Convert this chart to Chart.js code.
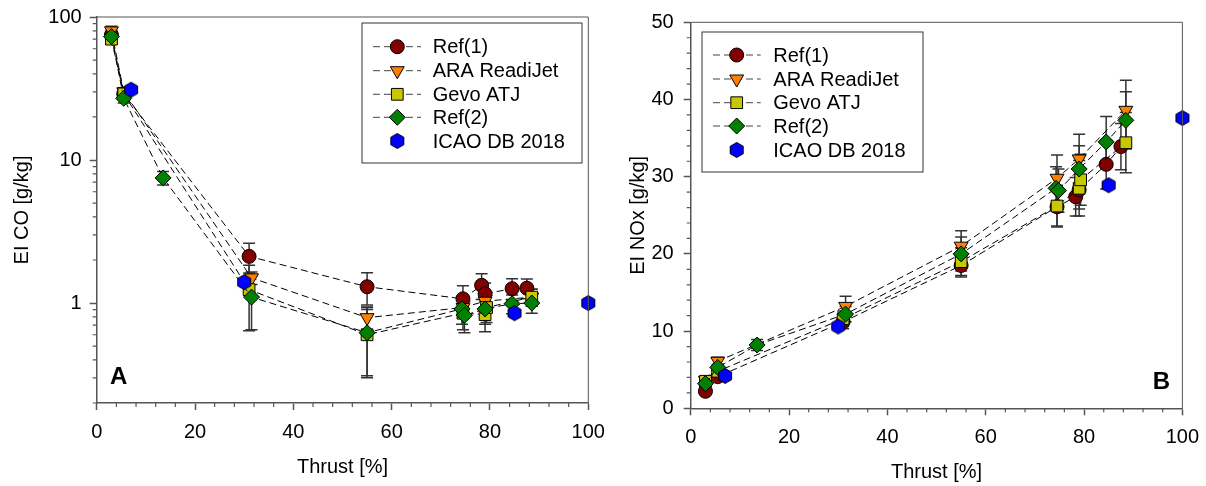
<!DOCTYPE html>
<html>
<head>
<meta charset="utf-8">
<script src="https://cdn.jsdelivr.net/npm/chart.js@4.4.0/dist/chart.umd.min.js"></script>
<style>
  html, body { margin: 0; padding: 0; background: #fff; }
  #wrap { position: relative; width: 1206px; height: 486px; }
  .panel { position: absolute; top: 0; height: 486px; }
</style>
</head>
<body>
<div id="wrap">
  <div class="panel" style="left:0;width:620px"><canvas id="chartA" width="620" height="486"></canvas></div>
  <div class="panel" style="left:603px;width:603px"><canvas id="chartB" width="603" height="486"></canvas></div>
</div>
<script>
// ---- Data ----
// Ref(1)
const thrustRef1 = [3, 5.5, 31, 55, 74.5, 78.3, 79, 84.5, 87.5];
const coRef1     = [75, 29, 2.12, 1.3, 1.07, 1.33, 1.16, 1.26, 1.27];
const coErrRef1  = [5, 2, 0.5, 0.33, 0.25, 0.27, 0.22, 0.22, 0.2];
const noxRef1    = [2.2, 4.1, 11.2, 18.5, 26.1, 27.4, 28.3, 31.6, 33.9];
const noxErrRef1 = [0.3, 0.4, 0.9, 1.5, 2.5, 2.5, 2.5, 3.2, 3.0];

// ARA ReadiJet
const thrustAra = [3, 5.5, 31.5, 55, 74.5, 79, 88.5];
const coAra     = [80, 30, 1.5, 0.79, 0.93, 1.03, 1.1];
const coErrAra  = [6, 2, 0.15, 0.15, 0.15, 0.15, 0.15];
const noxAra    = [3.6, 6.1, 13.2, 21, 29.8, 32.3, 38.6];
const noxErrAra = [0.4, 0.5, 1.3, 2.0, 3.0, 3.2, 3.9];

// Gevo ATJ
const thrustGevo = [3, 5.5, 31, 55, 74.5, 79, 79.3, 88.5];
const coGevo     = [70, 29, 1.24, 0.6, 0.85, 0.83, 0.93, 1.1];
const coErrGevo  = [5, 2, 0.6, 0.3, 0.2, 0.2, 0.2, 0.15];
const noxGevo    = [3.5, 4.8, 11.6, 19, 26.2, 28.5, 29.6, 34.4];
const noxErrGevo = [0.3, 0.4, 1.0, 1.8, 2.7, 3.6, 3.3, 3.9];

// Ref(2)
const thrustRef2 = [3, 5.5, 13.5, 31.5, 55, 74.3, 74.8, 79, 84.5, 88.5];
const coRef2     = [73, 27, 7.5, 1.1, 0.62, 0.91, 0.82, 0.91, 0.99, 1.0];
const coErrRef2  = [4, 2, 0.8, 0.45, 0.31, 0.2, 0.2, 0.2, 0.15, 0.15];
const noxRef2    = [3.2, 5.3, 8.2, 12.2, 20, 28.5, 28.2, 31.0, 34.5, 37.3];
const noxErrRef2 = [0.3, 0.4, 0.7, 1.0, 2.2, 2.8, 2.8, 3.0, 3.3, 3.7];

// ICAO DB 2018
const thrustIcao = [7, 30, 85, 100];
const coIcao     = [31, 1.4, 0.85, 1.0];
const noxIcao    = [4.2, 10.6, 28.9, 37.6];

// axis ticks
const thrustTicks = [0, 20, 40, 60, 80, 100];
const coTicks = [1, 10, 100];
const noxTicks = [0, 10, 20, 30, 40, 50];

const FONT = 'Arial, "Liberation Sans", sans-serif';
const AXIS = '#555';

// hexagon marker for ICAO
function hexagon(r, fill) {
  const c = document.createElement('canvas');
  const s = Math.ceil(r * 2 + 3);
  c.width = s; c.height = s;
  const g = c.getContext('2d');
  g.beginPath();
  for (let k = 0; k < 6; k++) {
    const a = -Math.PI / 2 + k * Math.PI / 3;
    const px = s / 2 + r * Math.cos(a), py = s / 2 + r * Math.sin(a);
    if (k === 0) g.moveTo(px, py); else g.lineTo(px, py);
  }
  g.closePath();
  g.fillStyle = fill; g.fill();
  g.strokeStyle = '#000'; g.lineWidth = 1; g.stroke();
  return c;
}
const hexImg = hexagon(7.5, '#0000ff');

const seriesList = [
  { label: 'Ref(1)', style: 'circle', radius: 7, color: '#800000', thrust: thrustRef1, co: coRef1, coErr: coErrRef1, nox: noxRef1, noxErr: noxErrRef1, order: 4 },
  { label: 'ARA ReadiJet', style: 'triangle', radius: 8, rotation: 180, color: '#ff8000', thrust: thrustAra, co: coAra, coErr: coErrAra, nox: noxAra, noxErr: noxErrAra, order: 3 },
  { label: 'Gevo ATJ', style: 'rect', radius: 8.3, color: '#c8c800', thrust: thrustGevo, co: coGevo, coErr: coErrGevo, nox: noxGevo, noxErr: noxErrGevo, order: 2 },
  { label: 'Ref(2)', style: 'rectRot', radius: 8, color: '#008000', thrust: thrustRef2, co: coRef2, coErr: coErrRef2, nox: noxRef2, noxErr: noxErrRef2, order: 1 },
  { label: 'ICAO DB 2018', style: hexImg, radius: 8, color: '#0000ff', thrust: thrustIcao, co: coIcao, nox: noxIcao, noLine: true, order: 0 }
];

function buildDatasets(key) {
  return seriesList.map(s => ({
    label: s.label,
    data: s.thrust.map((t, i) => ({ x: t, y: s[key][i] })),
    errors: s[key + 'Err'] || null,
    showLine: !s.noLine,
    borderColor: '#000',
    borderWidth: 1,
    borderDash: [7, 4],
    pointStyle: s.style,
    pointRotation: s.rotation || 0,
    pointRadius: s.radius,
    pointBackgroundColor: s.color,
    pointBorderColor: '#000',
    pointBorderWidth: 1,
    tension: 0,
    fill: false,
    clip: false,
    order: s.order
  }));
}

// error bars, behind the markers
const errorBars = {
  id: 'errorBars',
  beforeDatasetsDraw(chart) {
    const { ctx, scales: { x, y } } = chart;
    ctx.save();
    ctx.strokeStyle = '#333';
    ctx.lineWidth = 1.5;
    chart.data.datasets.forEach(ds => {
      if (!ds.errors) return;
      ds.data.forEach((p, i) => {
        const e = ds.errors[i];
        const px = x.getPixelForValue(p.x);
        const top = y.getPixelForValue(p.y + e);
        const bot = y.getPixelForValue(Math.max(p.y - e, y.min));
        ctx.beginPath();
        ctx.moveTo(px, top); ctx.lineTo(px, bot);
        ctx.moveTo(px - 6, top); ctx.lineTo(px + 6, top);
        ctx.moveTo(px - 6, bot); ctx.lineTo(px + 6, bot);
        ctx.stroke();
      });
    });
    ctx.restore();
  }
};

function legendMarker(ctx, s, cx, cy) {
  ctx.save();
  ctx.fillStyle = s.color;
  ctx.strokeStyle = '#000';
  ctx.lineWidth = 1;
  ctx.setLineDash([]);
  ctx.beginPath();
  if (s.style === 'circle') {
    ctx.arc(cx, cy, s.radius, 0, Math.PI * 2);
  } else if (s.style === 'triangle') {
    const r = s.radius;
    ctx.moveTo(cx, cy + r);
    ctx.lineTo(cx - r * 0.866, cy - r / 2);
    ctx.lineTo(cx + r * 0.866, cy - r / 2);
    ctx.closePath();
  } else if (s.style === 'rect') {
    const h = s.radius * Math.SQRT1_2;
    ctx.rect(cx - h, cy - h, 2 * h, 2 * h);
  } else if (s.style === 'rectRot') {
    const r = s.radius;
    ctx.moveTo(cx, cy - r); ctx.lineTo(cx + r, cy); ctx.lineTo(cx, cy + r); ctx.lineTo(cx - r, cy);
    ctx.closePath();
  } else {
    ctx.drawImage(s.style, cx - s.style.width / 2, cy - s.style.height / 2);
    ctx.restore();
    return;
  }
  ctx.fill();
  ctx.stroke();
  ctx.restore();
}

// frame, minor ticks, legend and panel letter
const panelExtras = {
  id: 'panelExtras',
  afterDraw(chart, args, opts) {
    const { ctx, chartArea: a, scales: { x, y } } = chart;
    ctx.save();
    ctx.strokeStyle = AXIS;
    ctx.lineWidth = 1;
    ctx.beginPath();
    ctx.moveTo(a.left, a.top); ctx.lineTo(a.right, a.top); ctx.lineTo(a.right, a.bottom);
    ctx.stroke();

    // minor ticks
    ctx.lineWidth = 1.2;
    ctx.beginPath();
    for (let v = 0; v <= 100; v += 4) {
      if (v % 20 === 0) continue;
      const px = x.getPixelForValue(v);
      ctx.moveTo(px, a.bottom); ctx.lineTo(px, a.bottom + 4);
    }
    let minor = [];
    if (opts.logY) {
      [0.1, 1, 10].forEach(d => { for (let k = 2; k <= 9; k++) minor.push(k * d); });
      minor = minor.filter(v => v >= y.min && v <= y.max);
    } else {
      for (let v = 0; v <= 50; v += 2) if (v % 10 !== 0) minor.push(v);
    }
    minor.forEach(v => {
      const py = y.getPixelForValue(v);
      ctx.moveTo(a.left, py); ctx.lineTo(a.left - 4, py);
    });
    ctx.stroke();

    // legend
    const L = opts.legend;
    ctx.strokeStyle = '#333';
    ctx.lineWidth = 1;
    ctx.strokeRect(L.x, L.y, L.w, L.h);
    ctx.font = '20px ' + FONT;
    ctx.fillStyle = '#000';
    ctx.textBaseline = 'middle';
    ctx.textAlign = 'left';
    seriesList.forEach((s, i) => {
      const ry = L.rowY[i];
      if (!s.noLine) {
        ctx.save();
        ctx.strokeStyle = '#444';
        ctx.setLineDash([7, 4]);
        ctx.beginPath();
        ctx.moveTo(L.lineX0, ry); ctx.lineTo(L.lineX1, ry);
        ctx.stroke();
        ctx.restore();
      }
      legendMarker(ctx, s, L.markX, ry);
      ctx.fillText(s.label, L.textX, ry + 1);
    });

    // panel letter
    ctx.font = 'bold 24px ' + FONT;
    ctx.textAlign = opts.letterAlign;
    ctx.fillText(opts.letter, opts.letterX, opts.letterY);
    ctx.restore();
  }
};

function axisCommon() {
  return {
    ticks: { color: '#000', font: { family: FONT, size: 20 }, autoSkip: false, maxRotation: 0 },
    grid: { drawOnChartArea: false, drawTicks: true, tickLength: 7, tickColor: AXIS, tickWidth: 1.5 },
    border: { display: true, color: AXIS, width: 1.5 }
  };
}

function makeChart(id, cfg) {
  const xAxis = axisCommon();
  xAxis.type = 'linear';
  xAxis.min = 0; xAxis.max = 100;
  xAxis.ticks.padding = 10;
  xAxis.afterBuildTicks = s => { s.ticks = thrustTicks.map(v => ({ value: v })); };
  xAxis.title = { display: true, text: 'Thrust [%]', color: '#000', font: { family: FONT, size: 20 }, padding: 0 };
  xAxis.afterFit = s => { s.height = cfg.xHeight; s.paddingLeft = 0; s.paddingRight = 0; };

  const yAxis = axisCommon();
  yAxis.type = cfg.logY ? 'logarithmic' : 'linear';
  yAxis.min = cfg.yMin; yAxis.max = cfg.yMax;
  yAxis.ticks.padding = cfg.yPad;
  yAxis.ticks.callback = v => String(v);
  yAxis.afterBuildTicks = s => { s.ticks = cfg.yTicks.map(v => ({ value: v })); };
  yAxis.title = { display: true, text: cfg.yTitle, color: '#000', font: { family: FONT, size: 20 }, padding: 0 };
  yAxis.afterFit = s => { s.width = cfg.yWidth; s.paddingTop = 0; s.paddingBottom = 0; };

  return new Chart(document.getElementById(id), {
    type: 'scatter',
    data: { datasets: buildDatasets(cfg.key) },
    options: {
      responsive: false,
      animation: false,
      layout: { padding: cfg.pad },
      plugins: {
        legend: { display: false },
        tooltip: { enabled: false },
        panelExtras: cfg.extras
      },
      scales: { x: xAxis, y: yAxis }
    },
    plugins: [errorBars, panelExtras]
  });
}

// Panel A: CO (log)
makeChart('chartA', {
  key: 'co', logY: true, yMin: 0.2, yMax: 100, yTicks: coTicks, yTitle: 'EI CO [g/kg]',
  yPad: 8, yWidth: 86.7, xHeight: 76,
  pad: { left: 10, top: 17, right: 31.7, bottom: 7 },
  extras: {
    logY: true, letter: 'A', letterAlign: 'left', letterX: 110, letterY: 377,
    legend: { x: 362, y: 23, w: 220, h: 140, rowY: [46.7, 70.7, 94.3, 117.3, 141], markX: 397.3, lineX0: 373, lineX1: 421, textX: 432.7 }
  }
});

// Panel B: NOx
makeChart('chartB', {
  key: 'nox', logY: false, yMin: 0, yMax: 50, yTicks: noxTicks, yTitle: 'EI NOx [g/kg]',
  yPad: 10, yWidth: 64.7, xHeight: 75.7,
  pad: { left: 23, top: 22.3, right: 23.6, bottom: 2 },
  extras: {
    logY: false, letter: 'B', letterAlign: 'right', letterX: 567, letterY: 382,
    legend: { x: 99, y: 32, w: 221, h: 140, rowY: [55, 79, 102.7, 126, 150], markX: 133.7, lineX0: 110, lineX1: 157.7, textX: 170.3 }
  }
});
</script>
</body>
</html>
